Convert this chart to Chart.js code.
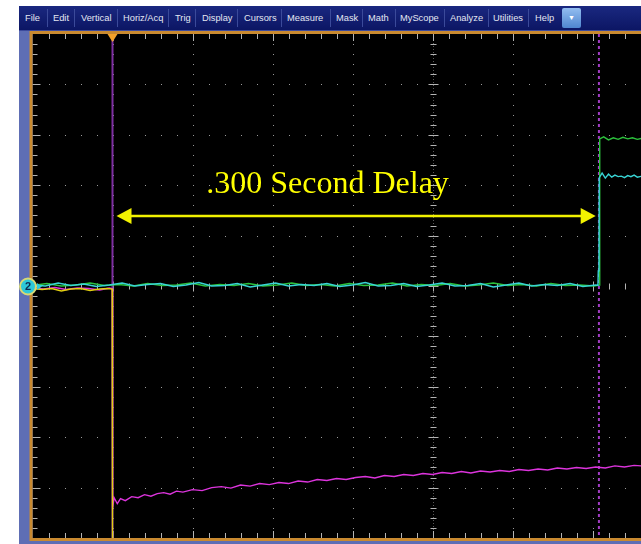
<!DOCTYPE html>
<html>
<head>
<meta charset="utf-8">
<script src="https://cdn.jsdelivr.net/npm/chart.js@4.4.0/dist/chart.umd.min.js"></script>
<style>
body{margin:0;background:#fff;width:641px;height:544px;overflow:hidden;position:relative}
#c{position:absolute;left:0;top:0}
#menu{position:absolute;left:19px;top:6px;width:622px;height:24px;background:linear-gradient(#1a2880,#0c1664);font:9.3px "Liberation Sans",Arial,sans-serif;color:#e4e7f2;border-bottom:1px solid #3c4a9c}
#menu span{position:absolute;top:7px;white-space:nowrap}
#menu i{position:absolute;top:3px;width:1px;height:18px;background:#3b4a9a}
#btn{position:absolute;left:543px;top:2px;width:19px;height:20px;background:linear-gradient(#93bdf0,#4f86cf);border-radius:2px;color:#fff;font-size:7px;text-align:center;line-height:20px}
</style>
</head>
<body>
<canvas id="c" width="641" height="544"></canvas>
<div id="menu">
  <span style="left:6px">File</span><i style="left:28px"></i>
  <span style="left:34px">Edit</span><i style="left:55px"></i>
  <span style="left:62px">Vertical</span><i style="left:98px"></i>
  <span style="left:104px">Horiz/Acq</span><i style="left:149px"></i>
  <span style="left:156px">Trig</span><i style="left:176px"></i>
  <span style="left:183px">Display</span><i style="left:218px"></i>
  <span style="left:225px">Cursors</span><i style="left:262px"></i>
  <span style="left:268px">Measure</span><i style="left:311px"></i>
  <span style="left:317px">Mask</span><i style="left:343px"></i>
  <span style="left:349px">Math</span><i style="left:376px"></i>
  <span style="left:381px">MyScope</span><i style="left:425px"></i>
  <span style="left:431px">Analyze</span><i style="left:469px"></i>
  <span style="left:474px">Utilities</span><i style="left:509px"></i>
  <span style="left:516px">Help</span>
  <div id="btn">&#9660;</div>
</div>
<script>
// time in ms (50 ms/div), amplitude in divisions
const xMin = -250, xMax = 130.3;
const xDivs = [-250, -200, -150, -100, -50, 0, 50, 100];
const yDivs = [-5, -4, -3, -2, -1, 0, 1, 2, 3, 4, 5];
const cursorTimes = [-200, 104];
const delayLabel = '.300 Second Delay';
const labelAt = [-65.6, 1.85];
const arrowSpan = [-197.5, 102];
const arrowLevel = 1.39;

// ch1 yellow
const ch1 = [[-250,-0.05],[-244,-0.07],[-238,-0.05],[-232,-0.1],[-226,-0.06],[-220,-0.05],[-214,-0.09],[-208,-0.06],[-203,-0.05],[-200.2,-0.06],[-200,-5.3],[131,-5.3]];

// ch2 cyan
const ch2 = [[-250,0.02],[-242,0.00],[-234,0.06],[-226,0.01],[-218,0.04],[-210,-0.01],[-202,0.02],[-194,0.06],[-186,0.00],[-178,0.03],
  [-170,0.05],[-162,-0.01],[-154,0.02],[-146,0.07],[-138,0.00],[-130,0.01],[-122,0.05],[-114,-0.02],[-106,0.02],[-98,0.06],
  [-90,0.00],[-82,0.03],[-74,0.01],[-66,0.05],[-58,-0.01],[-50,0.02],[-42,0.07],[-34,0.00],[-26,0.01],[-18,0.05],
  [-10,-0.01],[-2,0.02],[6,0.06],[14,0.00],[22,0.01],[30,0.05],[38,-0.02],[46,0.02],[54,0.06],[62,0.00],
  [70,0.03],[78,0.01],[86,0.05],[94,-0.01],[102,0.02],[103.4,0.01],[103.6,0.30],[104,0.32],[104.2,2.15],[106,2.24],
  [108,2.14],[110,2.22],[112,2.16],[114,2.20],[116,2.17],[118,2.18],[120,2.15],[122,2.19],[124,2.17],[126,2.20],[128,2.16],[131,2.18]];

// ch3 green
const ch3 = [[-250,0.01],[-241,0.05],[-232,0.00],[-223,0.02],[-214,0.06],[-205,0.01],[-196,0.03],[-187,0.00],[-178,0.05],[-169,0.01],
  [-160,0.02],[-151,0.06],[-142,0.00],[-133,0.03],[-124,0.01],[-115,0.05],[-106,0.00],[-97,0.02],[-88,0.06],[-79,0.01],
  [-70,0.03],[-61,0.00],[-52,0.05],[-43,0.01],[-34,0.02],[-25,0.06],[-16,0.00],[-7,0.03],[2,0.01],[11,0.05],
  [20,0.00],[29,0.02],[38,0.06],[47,0.01],[56,0.03],[65,0.00],[74,0.05],[83,0.01],[92,0.02],[101,0.00],
  [104.2,0.02],[104.5,2.92],[107,2.96],[110,2.90],[113,2.94],[116,2.91],[119,2.95],[122,2.92],[125,2.94],[128,2.91],[131,2.93]];

// ch4 magenta
const ch4 = [[-250,-0.04],[-243,-0.06],[-236,-0.03],[-229,-0.07],[-222,-0.04],[-215,-0.05],[-208,-0.08],[-202,-0.04],[-200.2,-0.05],[-199.9,-4.40],
  [-199,-4.20],[-197,-4.32],[-195,-4.22],[-192,-4.26],[-188,-4.18],[-184,-4.20],[-180,-4.14],[-176,-4.17],[-172,-4.12],[-168,-4.10],
  [-164,-4.13],[-160,-4.07],[-156,-4.09],[-150,-4.04],[-144,-4.06],[-138,-4.00],[-132,-3.98],[-126,-4.01],[-120,-3.95],[-114,-3.97],
  [-108,-3.92],[-102,-3.94],[-96,-3.90],[-90,-3.92],[-84,-3.87],[-78,-3.89],[-72,-3.84],[-66,-3.86],[-60,-3.82],[-54,-3.84],
  [-48,-3.80],[-42,-3.78],[-36,-3.81],[-30,-3.76],[-24,-3.78],[-18,-3.74],[-12,-3.76],[-6,-3.72],[0,-3.74],[6,-3.70],
  [12,-3.72],[18,-3.68],[24,-3.71],[30,-3.67],[36,-3.69],[42,-3.66],[48,-3.68],[54,-3.64],[60,-3.66],[66,-3.63],
  [72,-3.65],[78,-3.61],[84,-3.63],[90,-3.60],[96,-3.62],[102,-3.59],[108,-3.61],[114,-3.57],[120,-3.59],[126,-3.56],[131,-3.57]];

const pts = arr => arr.map(p => ({x: p[0], y: p[1]}));

function trace(label, arr, color) {
  return {label: label, data: pts(arr), borderColor: color, borderWidth: 1.4, pointRadius: 0, tension: 0, fill: false};
}

const scopePlugin = {
  id: 'scope',
  beforeDraw(chart) {
    const {ctx, chartArea: a, scales: {x, y}} = chart;
    ctx.save();
    ctx.fillStyle = '#5e6eb5';
    ctx.fillRect(19, 31, a.left - 19, 544 - 31);
    ctx.fillRect(19, a.bottom, 641 - 19, 544 - a.bottom);
    ctx.fillStyle = '#000';
    ctx.fillRect(a.left, a.top, a.right - a.left, a.bottom - a.top);

    // dotted grid
    ctx.fillStyle = '#9a9a9a';
    xDivs.forEach(v => {
      if (v === xMin) return;
      const px = Math.round(x.getPixelForValue(v));
      for (let k = 1; k < 50; k++) ctx.fillRect(px, Math.round(y.getPixelForValue(-5 + k * 0.2)), 1, 1);
    });
    yDivs.forEach(v => {
      if (v === 5 || v === -5 || v === 0) return;
      const py = Math.round(y.getPixelForValue(v));
      for (let t = xMin + 10; t < xMax; t += 10) ctx.fillRect(Math.round(x.getPixelForValue(t)), py, 1, 1);
    });

    // centre axes and border ticks
    const cx = Math.round(x.getPixelForValue(0)) + 0.5;
    const cy = Math.round(y.getPixelForValue(0)) + 0.5;
    ctx.lineWidth = 1;
    ctx.strokeStyle = '#5a5a5a';
    ctx.setLineDash([1, 2]);
    ctx.beginPath(); ctx.moveTo(cx, a.top); ctx.lineTo(cx, a.bottom); ctx.stroke();
    ctx.setLineDash([]);
    ctx.strokeStyle = '#b4b4b4';
    ctx.beginPath();
    for (let k = 1; k < 50; k++) {
      const py = Math.round(y.getPixelForValue(-5 + k * 0.2)) + 0.5;
      const big = k % 5 === 0;
      ctx.moveTo(cx - (big ? 5 : 3), py); ctx.lineTo(cx + (big ? 5 : 3), py);
      ctx.moveTo(a.left, py); ctx.lineTo(a.left + (big ? 8 : 5), py);
    }
    for (let t = xMin + 10; t < xMax; t += 10) {
      const px = Math.round(x.getPixelForValue(t)) + 0.5;
      const big = Math.abs((t - xMin) % 50) < 0.01;
      ctx.moveTo(px, a.top); ctx.lineTo(px, a.top + (big ? 7 : 5));
      ctx.moveTo(px, a.bottom); ctx.lineTo(px, a.bottom - (big ? 7 : 5));
      ctx.moveTo(px, cy - (big ? 5 : 3)); ctx.lineTo(px, cy + (big ? 5 : 3));
    }
    ctx.stroke();
    ctx.restore();
  },
  beforeDatasetsDraw(chart) {
    const {ctx, chartArea: a, scales: {x}} = chart;
    ctx.save();
    ctx.lineWidth = 2;
    ctx.strokeStyle = '#7d2fa0';
    let px = x.getPixelForValue(cursorTimes[0]);
    ctx.beginPath(); ctx.moveTo(px, a.top); ctx.lineTo(px, a.bottom); ctx.stroke();
    ctx.setLineDash([3, 3]);
    ctx.strokeStyle = '#a23cc4';
    px = x.getPixelForValue(cursorTimes[1]);
    ctx.beginPath(); ctx.moveTo(px, a.top); ctx.lineTo(px, a.bottom); ctx.stroke();
    ctx.restore();
  },
  afterDraw(chart) {
    const {ctx, chartArea: a, scales: {x, y}} = chart;
    ctx.save();
    // orange frame
    ctx.strokeStyle = '#c98a30';
    ctx.lineWidth = 3;
    ctx.strokeRect(a.left - 1.5, a.top - 1.5, 700, a.bottom - a.top + 3);

    // trigger marker
    const tx = x.getPixelForValue(cursorTimes[0]);
    ctx.fillStyle = '#f3a22a';
    ctx.beginPath();
    ctx.moveTo(tx - 5, a.top); ctx.lineTo(tx + 5, a.top); ctx.lineTo(tx, a.top + 8);
    ctx.closePath(); ctx.fill();

    // ch2 ground marker
    const gy = y.getPixelForValue(0);
    ctx.beginPath();
    ctx.arc(28, gy + 0.5, 8, 0, Math.PI * 2);
    ctx.fillStyle = '#2ec8d8'; ctx.fill();
    ctx.lineWidth = 2; ctx.strokeStyle = '#d8d873'; ctx.stroke();
    ctx.fillStyle = '#0d2a50';
    ctx.font = 'bold 11px "Liberation Sans"';
    ctx.textAlign = 'center'; ctx.textBaseline = 'middle';
    ctx.fillText('2', 28, gy + 1);
    ctx.fillStyle = '#2ec8d8';
    ctx.beginPath();
    ctx.moveTo(37, gy - 3); ctx.lineTo(42, gy + 0.5); ctx.lineTo(37, gy + 4); ctx.closePath(); ctx.fill();

    // delay annotation
    const ay = y.getPixelForValue(arrowLevel);
    const x1 = x.getPixelForValue(arrowSpan[0]);
    const x2 = x.getPixelForValue(arrowSpan[1]);
    ctx.strokeStyle = '#f2f200'; ctx.fillStyle = '#f2f200';
    ctx.lineWidth = 2.5;
    ctx.beginPath(); ctx.moveTo(x1 + 10, ay); ctx.lineTo(x2 - 10, ay); ctx.stroke();
    ctx.beginPath(); ctx.moveTo(x1, ay); ctx.lineTo(x1 + 15, ay - 8); ctx.lineTo(x1 + 15, ay + 8); ctx.closePath(); ctx.fill();
    ctx.beginPath(); ctx.moveTo(x2, ay); ctx.lineTo(x2 - 15, ay - 8); ctx.lineTo(x2 - 15, ay + 8); ctx.closePath(); ctx.fill();
    ctx.font = '32px "Liberation Serif"';
    ctx.textAlign = 'center'; ctx.textBaseline = 'alphabetic';
    ctx.fillStyle = '#ffff00';
    ctx.fillText(delayLabel, x.getPixelForValue(labelAt[0]), y.getPixelForValue(labelAt[1]));
    ctx.restore();
  }
};

new Chart(document.getElementById('c'), {
  type: 'line',
  data: {
    datasets: [
      trace('Ch1', ch1, '#e2cf10'),
      trace('Ch2', ch2, '#38d4d4'),
      trace('Ch3', ch3, '#2cc23c'),
      trace('Ch4', ch4, '#dc34dc')
    ]
  },
  options: {
    responsive: false,
    animation: false,
    devicePixelRatio: 1,
    layout: {padding: {left: 32.5, top: 34, right: 0, bottom: 6}},
    plugins: {legend: {display: false}, tooltip: {enabled: false}},
    scales: {
      x: {type: 'linear', display: false, min: xMin, max: xMax},
      y: {type: 'linear', display: false, min: -5, max: 5}
    }
  },
  plugins: [scopePlugin]
});
</script>
</body>
</html>
